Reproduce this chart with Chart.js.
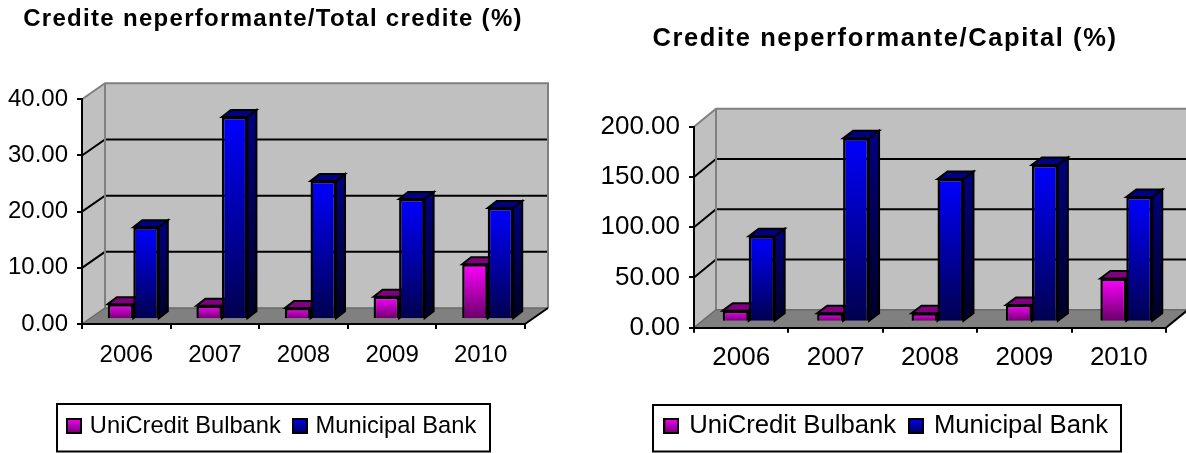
<!DOCTYPE html>
<html>
<head>
<meta charset="utf-8">
<title>Credite neperformante</title>
<script src="https://cdn.jsdelivr.net/npm/chart.js@4/dist/chart.umd.min.js"></script>
<style>
  html, body { margin: 0; padding: 0; background: #fff; overflow: hidden; }
  canvas { position: absolute; top: 0; }
</style>
</head>
<body>
<canvas id="ratioCredite" width="593" height="453" style="left:0"></canvas>
<canvas id="ratioCapital" width="593" height="453" style="left:593px"></canvas>
<script>
const years = ['2006', '2007', '2008', '2009', '2010'];
const seriesNames = ['UniCredit Bulbank', 'Municipal Bank'];

const uniCreditToLoans = [2.7, 2.4, 2.0, 4.0, 9.8];
const municipalToLoans = [16.4, 36.0, 24.6, 21.4, 19.8];
const uniCreditToCapital = [11, 8.4, 8.4, 16.6, 43];
const municipalToCapital = [85, 182.5, 142, 156, 124];

const FONT = '"Liberation Sans", Arial, sans-serif';

// Face colours of each series: front gradient, side gradient, top
const PAINT = [
  { hi: '#ff00ff', lo: '#660066', sideHi: '#800080', sideLo: '#330033', top: '#800080' },
  { hi: '#0000ff', lo: '#00004d', sideHi: '#000080', sideLo: '#000026', top: '#000080' }
];

function swatch(paint, size) {
  const c = document.createElement('canvas');
  c.width = c.height = size;
  const g = c.getContext('2d');
  const grad = g.createLinearGradient(0, 0, 0, size);
  grad.addColorStop(0, paint.hi);
  grad.addColorStop(1, paint.lo);
  g.fillStyle = grad;
  g.fillRect(0, 0, size, size);
  g.strokeStyle = '#000';
  g.lineWidth = 2;
  g.strokeRect(1, 1, size - 2, size - 2);
  return c;
}

function quad(ctx, pts, fill) {
  ctx.beginPath();
  pts.forEach((p, i) => (i ? ctx.lineTo(p[0], p[1]) : ctx.moveTo(p[0], p[1])));
  ctx.closePath();
  ctx.fillStyle = fill;
  ctx.fill();
  ctx.stroke();
}

// Perspective box: side walls, floor and back gridlines behind the axes
const chamber = {
  id: 'chamber',
  afterLayout(chart) {
    const v = chart.options.plugins.chamber;
    const t = chart.titleBlock, l = chart.legend;
    t.left = v.titleCenter - 295;
    t.right = v.titleCenter + 295;
    if (!t.spaced) {
      const drawTitle = t.draw.bind(t);
      t.draw = () => {
        chart.ctx.save();
        chart.ctx.letterSpacing = v.titleSpacing + 'px';
        drawTitle();
        chart.ctx.restore();
      };
      t.spaced = true;
    }
    const pad = l.options.labels.padding, size = l.options.labels.font.size;
    const h = l.height;
    l.left = v.legend.x - pad + v.legend.swatchInset;
    l.right = v.legend.x + v.legend.w + 200;
    l.top = v.legend.textY - pad - size / 2;
    l.bottom = l.top + h;
  },
  beforeDraw(chart) {
    const v = chart.options.plugins.chamber;
    const { ctx, scales: { x, y } } = chart;
    const [dx, dy] = v.depth;
    const y0 = y.getPixelForValue(y.min), yMax = y.getPixelForValue(y.max);
    const L = x.left, R = x.right;
    ctx.save();
    ctx.lineJoin = 'miter';
    ctx.fillStyle = '#c0c0c0';
    ctx.fillRect(L + dx, yMax - dy, R - L, y0 - yMax);
    ctx.beginPath();
    ctx.moveTo(L, yMax); ctx.lineTo(L + dx, yMax - dy); ctx.lineTo(L + dx, y0 - dy); ctx.lineTo(L, y0);
    ctx.closePath();
    ctx.fill();
    ctx.fillStyle = '#808080';
    ctx.beginPath();
    ctx.moveTo(L, y0); ctx.lineTo(L + dx, y0 - dy); ctx.lineTo(R + dx, y0 - dy); ctx.lineTo(R, y0);
    ctx.closePath();
    ctx.fill();

    // Gridlines run along the back wall and slant down the side wall
    ctx.strokeStyle = '#000';
    ctx.lineWidth = 2;
    y.ticks.forEach(t => {
      if (t.value === y.min || t.value === y.max) return;
      const p = y.getPixelForValue(t.value);
      ctx.beginPath();
      ctx.moveTo(L, p); ctx.lineTo(L + dx, p - dy); ctx.lineTo(R + dx, p - dy);
      ctx.stroke();
    });

    // Wall edges
    ctx.strokeStyle = '#808080';
    ctx.lineWidth = 2;
    ctx.beginPath();
    ctx.moveTo(L, yMax); ctx.lineTo(L + dx, yMax - dy); ctx.lineTo(R + dx, yMax - dy); ctx.lineTo(R + dx, y0 - dy);
    ctx.moveTo(L + dx, yMax - dy); ctx.lineTo(L + dx, y0 - dy);
    ctx.stroke();
    ctx.strokeStyle = '#6a6a6a';
    ctx.lineWidth = 1.5;
    ctx.beginPath();
    ctx.moveTo(L, y0); ctx.lineTo(L + dx, y0 - dy); ctx.lineTo(R + dx, y0 - dy);
    ctx.stroke();
    ctx.strokeStyle = '#000';
    ctx.lineWidth = 2;
    ctx.beginPath();
    ctx.moveTo(R, y0); ctx.lineTo(R + dx, y0 - dy);
    ctx.stroke();
    ctx.restore();
  },
  beforeDatasetsDraw(chart) {
    const v = chart.options.plugins.chamber;
    const { ctx } = chart;
    ctx.save();
    ctx.translate(v.barShift[0], -v.barShift[1]);
    const [bx, by] = v.barDepth;
    ctx.strokeStyle = '#000';
    ctx.lineWidth = 2;
    ctx.lineJoin = 'miter';
    chart.data.datasets.forEach((ds, i) => {
      const paint = PAINT[i];
      chart.getDatasetMeta(i).data.forEach(el => {
        const l = el.x - el.width / 2, r = el.x + el.width / 2, t = el.y, b = el.base;
        const side = ctx.createLinearGradient(0, t - by, 0, b);
        side.addColorStop(0, paint.sideHi);
        side.addColorStop(1, paint.sideLo);
        quad(ctx, [[r, t], [r + bx, t - by], [r + bx, b - by], [r, b]], side);
        quad(ctx, [[l, t], [l + bx, t - by], [r + bx, t - by], [r, t]], paint.top);
      });
    });
  },
  afterDatasetsDraw(chart) {
    chart.ctx.restore();
  },
  afterDraw(chart) {
    const b = chart.options.plugins.chamber.legend;
    const { ctx } = chart;
    ctx.save();
    ctx.strokeStyle = '#000';
    ctx.lineWidth = 2;
    ctx.strokeRect(b.x, b.y, b.w, b.h);
    ctx.restore();
  }
};

function frontFill(index) {
  const paint = PAINT[index];
  return context => {
    const chart = context.chart, y = chart.scales.y;
    if (!y || context.raw === undefined) return paint.hi;
    const top = y.getPixelForValue(context.raw), base = y.getPixelForValue(0);
    if (!isFinite(top) || !isFinite(base) || top === base) return paint.hi;
    const g = chart.ctx.createLinearGradient(0, top, 0, base);
    g.addColorStop(0, paint.hi);
    g.addColorStop(1, paint.lo);
    return g;
  };
}

function buildChart(id, view) {
  const H = 453, W = 593;
  const lh = view.titleSize * 1.2;
  const titleTop = view.titleY - lh / 2;
  new Chart(document.getElementById(id), {
    type: 'bar',
    plugins: [chamber],
    data: {
      labels: years,
      datasets: [
        { label: seriesNames[0], data: view.first, backgroundColor: frontFill(0), borderColor: '#000', borderWidth: 2.5, clip: false },
        { label: seriesNames[1], data: view.second, backgroundColor: frontFill(1), borderColor: '#000', borderWidth: 2.5, clip: false }
      ]
    },
    options: {
      responsive: false,
      animation: false,
      devicePixelRatio: 1,
      layout: { padding: { left: 0, top: 0, right: W - view.area.right, bottom: 0 } },
      datasets: { bar: { barPercentage: 1, categoryPercentage: view.barShare } },
      plugins: {
        tooltip: { enabled: false },
        title: {
          display: true,
          text: view.title,
          color: '#000',
          font: { family: FONT, size: view.titleSize, weight: 'bold', lineHeight: 1.2 },
          padding: { top: titleTop, bottom: view.area.top - titleTop - lh }
        },
        legend: {
          display: true,
          position: 'bottom',
          align: 'start',
          labels: {
            usePointStyle: true,
            pointStyleWidth: view.legend.gapBox,
            boxHeight: view.legendFont,
            padding: view.legend.itemGap,
            color: '#000',
            font: { family: FONT, size: view.legendFont },
            generateLabels: chart => chart.data.datasets.map((d, i) => ({
              text: d.label,
              pointStyle: swatch(PAINT[i], 16),
              fillStyle: PAINT[i].hi,
              strokeStyle: '#000',
              lineWidth: 0,
              fontColor: '#000',
              hidden: false,
              datasetIndex: i
            }))
          }
        },
        chamber: {
          depth: view.depth,
          barShift: view.barShift,
          barDepth: view.barDepth,
          legend: view.legend,
          titleCenter: view.titleCenter,
          titleSpacing: view.titleSpacing
        }
      },
      scales: {
        x: {
          grid: { display: true, drawOnChartArea: false, drawTicks: true, tickLength: 5, color: '#000', lineWidth: 2 },
          border: { display: true, color: '#000', width: 2 },
          ticks: { color: '#000', font: { family: FONT, size: view.fontSize }, padding: view.xPadding, maxRotation: 0, autoSkip: false },
          afterFit: s => { s.height = H - view.area.bottom - s.chart.legend.height; }
        },
        y: {
          min: 0,
          max: view.yMax,
          grid: { display: true, drawOnChartArea: false, drawTicks: true, tickLength: 5, color: '#000', lineWidth: 2 },
          border: { display: true, color: '#000', width: 2 },
          ticks: {
            stepSize: view.yStep,
            color: '#000',
            padding: 9,
            font: { family: FONT, size: view.fontSize },
            callback: value => value.toFixed(2)
          },
          afterFit: s => { s.width = view.area.left; }
        }
      }
    }
  });
}

buildChart('ratioCredite', {
  title: 'Credite neperformante/Total credite (%)',
  first: uniCreditToLoans,
  second: municipalToLoans,
  yMax: 40, yStep: 10,
  area: { left: 82, top: 99.3, right: 525, bottom: 324 },
  depth: [23, 16], barShift: [7, 4.7], barDepth: [9, 7], barShare: 0.576,
  fontSize: 24, legendFont: 23.7, xPadding: 12,
  titleSize: 24, titleSpacing: 1.3, titleY: 19, titleCenter: 273,
  legend: { x: 57, y: 404, w: 433, h: 47.5, textY: 426, swatchInset: 13, gapBox: 8, itemGap: 15 }
});

buildChart('ratioCapital', {
  title: 'Credite neperformante/Capital (%)',
  first: uniCreditToCapital,
  second: municipalToCapital,
  yMax: 200, yStep: 50,
  area: { left: 101, top: 126.7, right: 573, bottom: 327.7 },
  depth: [22, 18], barShift: [7.5, 6], barDepth: [10, 7.5], barShare: 0.55,
  fontSize: 26, legendFont: 25.7, xPadding: 10,
  titleSize: 25.5, titleSpacing: 1.6, titleY: 39, titleCenter: 292,
  legend: { x: 60, y: 405, w: 468, h: 46.5, textY: 426, swatchInset: 13.3, gapBox: 10, itemGap: 14.85 }
});
</script>
</body>
</html>
